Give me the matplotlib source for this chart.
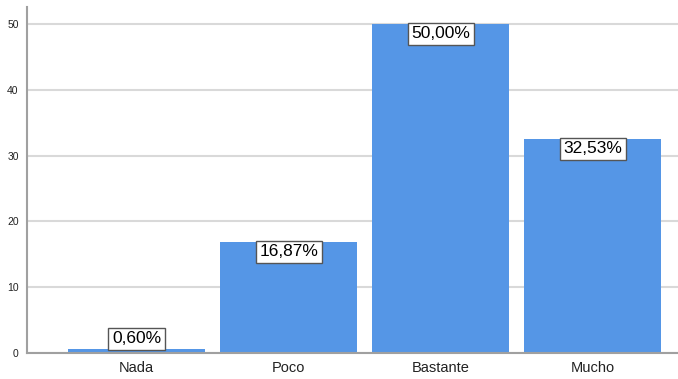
import matplotlib.pyplot as plt
import numpy as np

plt.rcParams["font.family"] = ["Liberation Sans", "DejaVu Sans"]

categories = ["Nada", "Poco", "Bastante", "Mucho"]
values = [0.60, 16.87, 50.00, 32.53]
labels = ["0,60%", "16,87%", "50,00%", "32,53%"]

fig = plt.figure(figsize=(6.78, 3.79), dpi=100)
ax = fig.add_axes([27 / 678, 1 - 353 / 379, 651 / 678, 346 / 379])

x = np.arange(len(categories))
bars = ax.bar(x, values, width=0.9, color="#5596e6", zorder=2)

ax.set_xlim(-0.72, 3.56)
ax.set_ylim(0, 52.6)
ax.set_yticks([0, 10, 20, 30, 40, 50])
ax.set_xticks(x)
ax.set_xticklabels(categories, fontsize=10.5, color="#222222")
ax.tick_params(axis="y", labelsize=7.5, length=0, pad=6, colors="#222222")
ax.tick_params(axis="x", length=0, pad=6)
ax.yaxis.grid(True, color="#d9d9d9", linewidth=1.5, zorder=0)

for side in ["top", "right"]:
    ax.spines[side].set_visible(False)
for side in ["left", "bottom"]:
    ax.spines[side].set_color("#a0a0a0")
    ax.spines[side].set_linewidth(1.5)

# value labels: hanging from the bar top, or sitting on it if the bar is too short
for xi, v, lab in zip(x, values, labels):
    box = dict(boxstyle="square,pad=0.2", facecolor="white", edgecolor="#555555", linewidth=1)
    if v < 5:
        ax.annotate(lab, (xi, v), xytext=(0, 2), textcoords="offset points",
                    ha="center", va="bottom", fontsize=12.5, bbox=box, zorder=3)
    else:
        ax.annotate(lab, (xi, v), xytext=(0, -1.5), textcoords="offset points",
                    ha="center", va="top", fontsize=12.5, bbox=box, zorder=3)

fig.savefig("out.png", dpi=100)
